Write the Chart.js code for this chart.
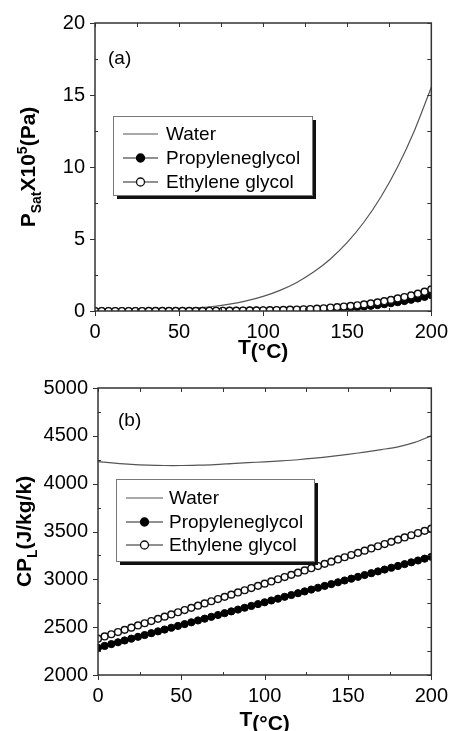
<!DOCTYPE html>
<html><head><meta charset="utf-8">
<script src="https://cdn.jsdelivr.net/npm/chart.js@4/dist/chart.umd.min.js"></script>
<style>
html,body{margin:0;padding:0;background:#fff;overflow:hidden;}
canvas{position:absolute;left:0;display:block;}
#ca{top:0;}
#cb{top:366px;}
</style></head><body>
<canvas id="ca" width="457" height="366"></canvas>
<canvas id="cb" width="457" height="365"></canvas>
<script>
// ---------- data ----------
const seriesNames = ['Water', 'Propyleneglycol', 'Ethylene glycol'];
const tempTicks = [0, 50, 100, 150, 200];
const tempMinorTicks = [25, 75, 125, 175];
const psatTicks = [0, 5, 10, 15, 20];
const psatMinorTicks = [2.5, 7.5, 12.5, 17.5];
const cpTicks = [2000, 2500, 3000, 3500, 4000, 4500, 5000];
const cpMinorTicks = [2250, 2750, 3250, 3750, 4250, 4750];

const tempWater = [0,10,20,30,40,50,60,70,80,90,100,110,120,130,140,150,160,170,180,190,200];
const tempGlycol = [0,4,8,12,16,20,24,28,32,36,40,44,48,52,56,60,64,68,72,76,80,84,88,92,96,100,
  104,108,112,116,120,124,128,132,136,140,144,148,152,156,160,164,168,172,176,180,184,188,192,196,200];

// Saturation pressure, x10^5 Pa
const psatWater = [0.006,0.012,0.023,0.042,0.074,0.123,0.199,0.312,0.474,0.701,1.013,1.433,1.985,2.701,3.613,4.76,6.18,7.92,10.02,12.54,15.54];
const psatPG = [0.0001,0.0002,0.0003,0.0004,0.0005,0.0007,0.0009,0.0011,0.0014,0.0018,0.0022,0.0027,0.0033,0.004,0.005,0.006,0.0075,0.009,0.011,0.013,0.016,0.019,0.022,0.026,0.03,0.035,
  0.04,0.047,0.054,0.062,0.072,0.083,0.096,0.11,0.13,0.15,0.175,0.205,0.24,0.275,0.315,0.36,0.41,0.47,0.54,0.61,0.69,0.78,0.87,0.98,1.10];
const psatEG = [0.0002,0.0003,0.0004,0.0006,0.0008,0.001,0.001,0.0015,0.002,0.0025,0.003,0.004,0.005,0.006,0.007,0.009,0.011,0.013,0.016,0.019,0.023,0.027,0.032,0.037,0.043,0.05,
  0.058,0.067,0.078,0.09,0.104,0.12,0.138,0.16,0.19,0.24,0.27,0.31,0.35,0.40,0.46,0.53,0.60,0.68,0.77,0.87,0.97,1.08,1.20,1.34,1.50];

// Liquid heat capacity, J/kg/K
const cpWater = [4231,4215,4202,4194,4190,4190,4194,4200,4210,4220,4228,4238,4250,4266,4285,4306,4330,4356,4385,4432,4500];
const cpPG = [2285,2304,2323,2342,2361,2380,2399,2418,2437,2456,2475,2494,2513,2532,2551,2570,2589,2608,2627,2646,2665,2684,2703,2722,2741,2760,
  2779,2798,2817,2836,2855,2874,2893,2912,2931,2950,2969,2988,3007,3026,3045,3064,3083,3102,3121,3140,3159,3178,3197,3216,3235];
const cpEG = [2380,2403,2426,2449,2472,2495,2518,2541,2564,2587,2610,2633,2656,2679,2702,2725,2748,2771,2794,2817,2840,2863,2886,2909,2932,2955,
  2978,3001,3024,3047,3070,3093,3116,3139,3162,3185,3208,3231,3254,3277,3300,3323,3346,3369,3392,3415,3438,3461,3484,3507,3530];

// ---------- helpers ----------
const FONT = '"Liberation Sans", Arial, Helvetica, sans-serif';
const pts = (xs, ys) => xs.map((x, i) => ({x: x, y: ys[i]}));

function drawRich(ctx, parts, cx, cy, rotate) {
  ctx.save();
  ctx.translate(cx, cy);
  if (rotate) ctx.rotate(-Math.PI / 2);
  let total = 0;
  parts.forEach(p => { ctx.font = p.font; p.w = ctx.measureText(p.t).width; total += p.w; });
  let xx = -total / 2;
  ctx.fillStyle = '#000';
  ctx.textBaseline = 'alphabetic';
  ctx.textAlign = 'left';
  parts.forEach(p => { ctx.font = p.font; ctx.fillText(p.t, xx, p.dy); xx += p.w; });
  ctx.restore();
}

const decor = {
  id: 'decor',
  afterDraw(chart, args, o) {
    const ctx = chart.ctx, a = chart.chartArea, xs = chart.scales.x, ys = chart.scales.y;
    ctx.save();
    ctx.strokeStyle = '#333';
    ctx.lineWidth = 1;
    ctx.beginPath();
    o.xMajor.forEach(v => { const p = Math.round(xs.getPixelForValue(v)) + 0.5;
      ctx.moveTo(p, a.bottom); ctx.lineTo(p, a.bottom + 5);
      ctx.moveTo(p, a.top); ctx.lineTo(p, a.top + 4); });
    o.xMinor.forEach(v => { const p = Math.round(xs.getPixelForValue(v)) + 0.5;
      ctx.moveTo(p, a.bottom); ctx.lineTo(p, a.bottom - 3);
      ctx.moveTo(p, a.top); ctx.lineTo(p, a.top + 4); });
    o.yMajor.forEach(v => { const p = Math.round(ys.getPixelForValue(v)) + 0.5;
      ctx.moveTo(a.left, p); ctx.lineTo(a.left - 5, p);
      ctx.moveTo(a.right, p); ctx.lineTo(a.right - 4, p); });
    o.yMinor.forEach(v => { const p = Math.round(ys.getPixelForValue(v)) + 0.5;
      ctx.moveTo(a.left, p); ctx.lineTo(a.left + 3, p);
      ctx.moveTo(a.right, p); ctx.lineTo(a.right - 4, p); });
    ctx.stroke();
    // frame
    ctx.lineWidth = 1.5;
    ctx.strokeRect(a.left, a.top, a.right - a.left, a.bottom - a.top);

    // legend
    const L = o.legend;
    ctx.fillStyle = '#111';
    ctx.fillRect(L.x + 4, L.y + 4, L.w, L.h);
    ctx.fillStyle = '#fff';
    ctx.fillRect(L.x, L.y, L.w, L.h);
    ctx.strokeStyle = '#777';
    ctx.lineWidth = 1;
    ctx.strokeRect(L.x + 0.5, L.y + 0.5, L.w, L.h);
    const ds = chart.data.datasets;
    ds.forEach((d, i) => {
      const ry = L.rows[i];
      ctx.strokeStyle = d.borderColor;
      ctx.lineWidth = 1.2;
      ctx.beginPath();
      ctx.moveTo(L.s1, ry); ctx.lineTo(L.s2, ry); ctx.stroke();
      if (d.pointRadius > 0) {
        ctx.beginPath();
        ctx.arc((L.s1 + L.s2) / 2, ry, 4, 0, Math.PI * 2);
        ctx.fillStyle = d.pointBackgroundColor;
        ctx.fill();
        ctx.strokeStyle = d.pointBorderColor;
        ctx.lineWidth = 1.3;
        ctx.stroke();
      }
      ctx.fillStyle = '#000';
      ctx.font = '19px ' + FONT;
      ctx.textBaseline = 'middle';
      ctx.textAlign = 'left';
      ctx.fillText(d.label, L.tx, ry + 1);
    });

    // panel letter
    ctx.fillStyle = '#000';
    ctx.font = '19px ' + FONT;
    ctx.textBaseline = 'middle';
    ctx.textAlign = 'left';
    ctx.fillText(o.panel.t, o.panel.x, o.panel.y);

    // axis titles
    drawRich(ctx, o.yTitle, o.yTitleX, (a.top + a.bottom) / 2, true);
    drawRich(ctx, o.xTitle, (a.left + a.right) / 2, o.xTitleY, false);
    ctx.restore();
  }
};

function makeChart(id, cfg) {
  const tickFont = {family: FONT, size: 20};
  return new Chart(document.getElementById(id), {
    type: 'line',
    data: {
      datasets: [
        {label: seriesNames[0], data: pts(tempWater, cfg.water), borderColor: '#555', borderWidth: 1.2,
         pointRadius: 0, tension: 0.3, order: 2},
        {label: seriesNames[1], data: pts(tempGlycol, cfg.pg), borderColor: '#222', borderWidth: 1,
         pointRadius: 3.6, pointBackgroundColor: '#000', pointBorderColor: '#000', pointBorderWidth: 1, order: 1},
        {label: seriesNames[2], data: pts(tempGlycol, cfg.eg), borderColor: '#222', borderWidth: 1,
         pointRadius: 3.4, pointBackgroundColor: '#fff', pointBorderColor: '#111', pointBorderWidth: 1.4, order: 0}
      ]
    },
    options: {
      responsive: false,
      animation: false,
      layout: {padding: {top: cfg.padTop, right: cfg.padRight, left: 0, bottom: 0}},
      plugins: {legend: {display: false}, tooltip: {enabled: false}, decor: cfg.decor},
      scales: {
        x: {type: 'linear', min: 0, max: 200,
            afterBuildTicks: s => { s.ticks = tempTicks.map(v => ({value: v})); },
            afterFit: s => { s.height = cfg.xH; },
            grid: {display: false, drawTicks: false}, border: {display: false},
            ticks: {font: tickFont, color: '#000', padding: 9, maxRotation: 0, autoSkip: false,
                    callback: v => String(v)}},
        y: {type: 'linear', min: cfg.yMin, max: cfg.yMax,
            afterBuildTicks: s => { s.ticks = cfg.yTicks.map(v => ({value: v})); },
            afterFit: s => { s.width = cfg.yW; },
            grid: {display: false, drawTicks: false}, border: {display: false},
            ticks: {font: tickFont, color: '#000', padding: 10, autoSkip: false,
                    callback: v => String(v)}}
      }
    },
    plugins: [decor]
  });
}

const B21 = 'bold 21px ' + FONT, B14 = 'bold 14px ' + FONT;

makeChart('ca', {
  water: psatWater, pg: psatPG, eg: psatEG,
  yMin: 0, yMax: 20, yTicks: psatTicks, yW: 95, xH: 55, padTop: 23, padRight: 23,
  decor: {
    xMajor: tempTicks, xMinor: tempMinorTicks, yMajor: psatTicks, yMinor: psatMinorTicks,
    legend: {x: 113, y: 116, w: 199, h: 79, rows: [134, 158, 182], s1: 123, s2: 158, tx: 166},
    panel: {t: '(a)', x: 108, y: 59},
    yTitleX: 28,
    yTitle: [{t: 'P', font: B21, dy: 7}, {t: 'Sat', font: B14, dy: 13}, {t: 'X10', font: B21, dy: 7},
             {t: '5', font: B14, dy: -1}, {t: '(Pa)', font: B21, dy: 7}],
    xTitleY: 354,
    xTitle: [{t: 'T', font: B21, dy: 0}, {t: '(°C)', font: B21, dy: 4}]
  }
});

makeChart('cb', {
  water: cpWater, pg: cpPG, eg: cpEG,
  yMin: 2000, yMax: 5000, yTicks: cpTicks, yW: 98, xH: 56, padTop: 19, padRight: 21,
  decor: {
    xMajor: tempTicks, xMinor: tempMinorTicks, yMajor: cpTicks, yMinor: cpMinorTicks,
    legend: {x: 116, y: 113, w: 198, h: 82, rows: [132, 156, 179], s1: 126, s2: 163, tx: 169},
    panel: {t: '(b)', x: 118, y: 55},
    yTitleX: 24,
    yTitle: [{t: 'CP', font: B21, dy: 7}, {t: 'L', font: B14, dy: 13}, {t: '(J/kg/k)', font: B21, dy: 7}],
    xTitleY: 360,
    xTitle: [{t: 'T', font: B21, dy: 0}, {t: '(°C)', font: B21, dy: 4}]
  }
});
</script>
</body></html>
